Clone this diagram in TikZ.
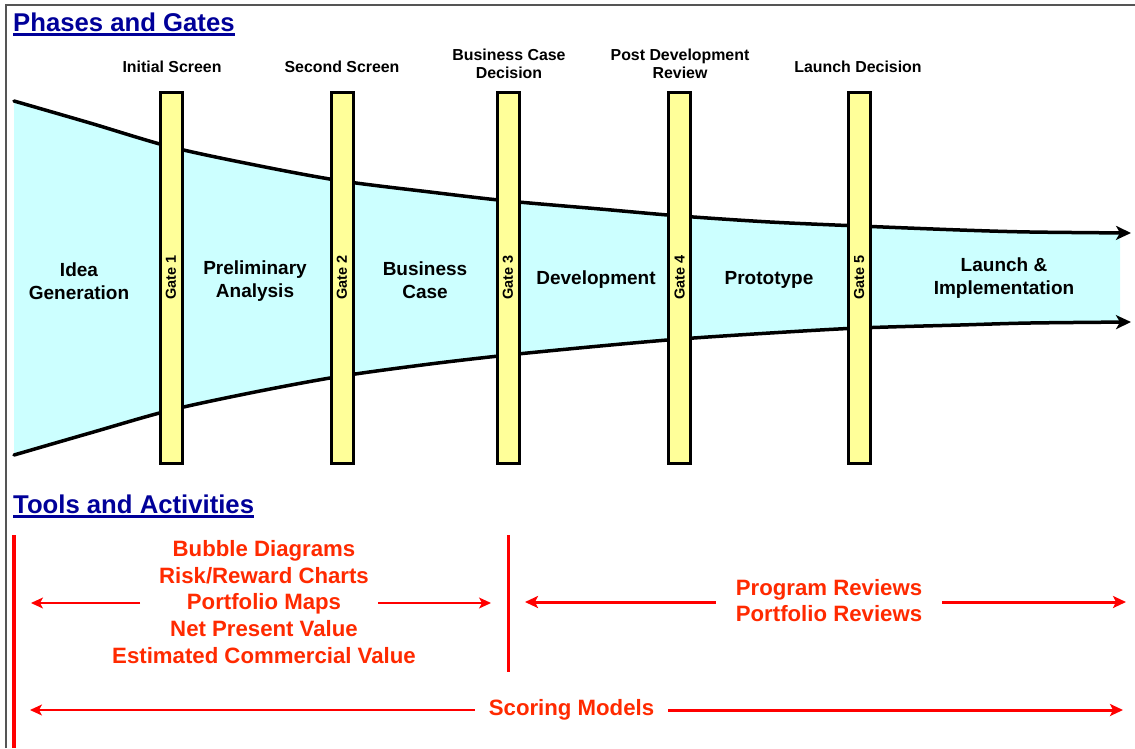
\documentclass[tikz,border=0pt]{standalone}
\usepackage{fontspec}
\setmainfont{Liberation Sans}
\usetikzlibrary{arrows.meta}
\definecolor{funnelc}{HTML}{CCFFFF}
\definecolor{gatey}{HTML}{FFFF99}
\definecolor{navyt}{HTML}{000099}
\definecolor{redt}{HTML}{FF2A00}
\definecolor{redl}{HTML}{FF0000}
\definecolor{framec}{HTML}{555555}
\tikzset{
  heading/.style={anchor=base west,inner sep=0pt,text=navyt,font=\bfseries\fontsize{25.7}{30}\selectfont},
  ulinestyle/.style={navyt,line width=2.2pt},
  gatebar/.style={draw=black,line width=3pt,fill=gatey,rotate=90,minimum width=371pt,minimum height=22pt,inner sep=0pt,font=\bfseries\fontsize{14.5}{16}\selectfont},
  gatelabel/.style={align=center,inner sep=0pt,font=\bfseries\fontsize{15.9}{18.5}\selectfont},
  phase/.style={align=center,inner sep=0pt,font=\bfseries\fontsize{19}{23}\selectfont},
  edgeline/.style={line width=3.5pt,black,line cap=round},
  bigtip/.style={-{Stealth[length=15pt,width=14pt,inset=4pt]}},
  tool/.style={align=center,text=redt,font=\bfseries\fontsize{22.2}{26.7}\selectfont},
  thinred/.style={redl,line width=1.3pt,-{Stealth[length=12pt,width=11pt,inset=3pt]}},
  thickred/.style={redl,line width=3pt,-{Stealth[length=13pt,width=12pt,inset=3pt]}},
  redbar/.style={redl,line width=4pt},
}
\begin{document}
\begin{tikzpicture}[x=1pt,y=-1pt]
\useasboundingbox (0,0) rectangle (1135,748);
\fill[white] (0,0) rectangle (1135,748);
\draw[framec,line width=2pt] (6,748) -- (6,5) -- (1135,5);

% headings
\node[heading] (h1) at (13,31) {Phases and Gates};
\draw[ulinestyle] ([yshift=-3.5pt]h1.base west) -- ([yshift=-3.5pt]h1.base east);
\node[heading] (h2) at (13,513) {Tools and Activities};
\draw[ulinestyle] ([yshift=-3.5pt]h2.base west) -- ([yshift=-3.5pt]h2.base east);

% funnel fill
\fill[funnelc] plot[smooth,tension=0.5] coordinates {(14,101) (90,123) (171,147) (260,166) (342,181) (430,192) (508,201) (600,209) (680,216) (770,222) (859,226) (960,230) (1030,232) (1120,233)}
  -- plot[smooth,tension=0.5] coordinates {(1120,322) (1030,323) (960,325) (859,328) (770,333) (680,339) (600,346) (508,355) (430,364) (342,376) (260,391) (171,410) (90,433) (14,455)} -- cycle;
% funnel edges
\draw[edgeline,bigtip] plot[smooth,tension=0.5] coordinates {(14,101) (90,123) (171,147) (260,166) (342,181) (430,192) (508,201) (600,209) (680,216) (770,222) (859,226) (960,230) (1030,232) (1131,233)};
\draw[edgeline,bigtip] plot[smooth,tension=0.5] coordinates {(14,455) (90,433) (171,410) (260,391) (342,376) (430,364) (508,355) (600,346) (680,339) (770,333) (859,328) (960,325) (1030,323) (1131,322)};

% gates
\node[gatebar] (g1) at (171,277.5) {Gate 1};
\node[gatebar] (g2) at (342,277.5) {Gate 2};
\node[gatebar] (g3) at (508,277.5) {Gate 3};
\node[gatebar] (g4) at (679.5,277.5) {Gate 4};
\node[gatebar] (g5) at (859,277.5) {Gate 5};

% gate labels
\node[gatelabel] (l1) at (172,67) {Initial Screen};
\node[gatelabel] (l2) at (342,67) {Second Screen};
\node[gatelabel] (l3) at (509,64) {Business Case\\Decision};
\node[gatelabel] (l4) at (680,64) {Post Development\\Review};
\node[gatelabel] (l5) at (858,67) {Launch Decision};

% phases
\node[phase] (p1) at (79,281.5) {Idea\\Generation};
\node[phase] (p2) at (255,281.5) {Preliminary\\Analysis};
\node[phase] (p3) at (425,280.5) {Business\\Case};
\node[phase] (p4) at (596,280) {Development};
\node[phase] (p5) at (769,280) {Prototype};
\node[phase] (p6) at (1004,278.5) {Launch \&\\Implementation};

% tools and activities
\draw[redbar] (14,535) -- (14,748);
\draw[redl,line width=3pt] (508,535) -- (508,672);

\node[tool,inner sep=0pt] (t1) at (264,602) {Bubble Diagrams\\Risk/Reward Charts\\Portfolio Maps\\Net Present Value\\Estimated Commercial Value};
\coordinate (a1s) at (140,603);
\coordinate (a1e) at (31,603);
\coordinate (a2s) at (378,603);
\coordinate (a2e) at (491,603);
\draw[thinred] (a1s) -- (a1e);
\draw[thinred] (a2s) -- (a2e);

\node[tool,inner ysep=0pt,inner xsep=20pt] (t2) at (829,600.5) {Program Reviews\\Portfolio Reviews};
\coordinate (a3e) at (525,602);
\coordinate (a4e) at (1126,602);
\draw[thickred] (t2.west |- a3e) -- (a3e);
\draw[thickred] (t2.east |- a4e) -- (a4e);

\node[tool,inner ysep=0pt,inner xsep=14pt] (t3) at (571.5,710) {Scoring Models};
\coordinate (a5e) at (30,710);
\coordinate (a6e) at (1123,710);
\draw[thinred] (t3.west) -- (a5e);
\draw[thickred] (t3.east) -- (a6e);
\end{tikzpicture}
\end{document}
